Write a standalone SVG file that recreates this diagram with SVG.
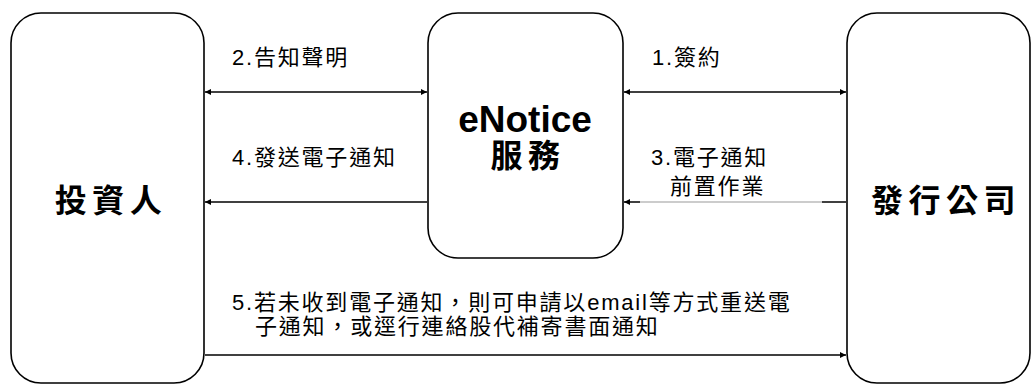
<svg xmlns="http://www.w3.org/2000/svg" width="1032" height="384" viewBox="0 0 1032 384" xml:lang="zh-Hant-TW">
<defs>
<style>
.node{fill:#fff;stroke:#000;stroke-width:1.6}
.big{font-family:"Liberation Sans","Noto Sans CJK TC",sans-serif;font-size:32px;font-weight:bold;letter-spacing:5.5px;text-anchor:middle}
.en{font-family:"Liberation Sans","Noto Sans CJK TC",sans-serif;font-size:37px;font-weight:bold;text-anchor:middle}
.lbl{font-family:"Liberation Sans","Noto Sans CJK TC",sans-serif;font-size:22px;letter-spacing:1.8px;fill:#000}
.ln{stroke:#000;stroke-width:1.5;fill:none}
</style>
<marker id="ah" viewBox="0 0 10 10" refX="10" refY="5" markerWidth="6" markerHeight="6" markerUnits="userSpaceOnUse" orient="auto-start-reverse">
<path d="M0,0 L10,5 L0,10 z" fill="#000"/>
</marker>
</defs>
<rect width="1032" height="384" fill="#fff"/>
<g id="investor">
<rect class="node" x="11" y="13" width="193" height="370" rx="30"/>
<text class="big" x="111" y="212">投資人</text>
</g>
<g id="enotice">
<rect class="node" x="428" y="13" width="195" height="245" rx="30"/>
<text class="en" x="525" y="132">eNotice</text>
<text class="big" x="528" y="167">服務</text>
</g>
<g id="issuer">
<rect class="node" x="847" y="13" width="183" height="370" rx="30"/>
<text class="big" x="946" y="212">發行公司</text>
</g>
<g id="connectors">
<line class="ln" x1="205" y1="92" x2="427" y2="92" marker-start="url(#ah)" marker-end="url(#ah)"/>
<line class="ln" x1="427" y1="202" x2="205" y2="202" marker-end="url(#ah)"/>
<line class="ln" x1="624" y1="92" x2="846" y2="92" marker-start="url(#ah)" marker-end="url(#ah)"/>
<line class="ln" x1="846" y1="202" x2="822" y2="202"/>
<line x1="822" y1="202" x2="640" y2="202" stroke="#9a9a9a" stroke-width="1.2"/>
<line class="ln" x1="640" y1="202" x2="624" y2="202" marker-end="url(#ah)"/>
<line class="ln" x1="205" y1="355" x2="846" y2="355" marker-end="url(#ah)"/>
<text class="lbl" x="232" y="65">2.告知聲明</text>
<text class="lbl" x="232" y="165">4.發送電子通知</text>
<text class="lbl" x="652" y="65">1.簽約</text>
<text class="lbl" x="651" y="165">3.電子通知</text>
<text class="lbl" x="670" y="194">前置作業</text>
<text class="lbl" x="232" y="310">5.若未收到電子通知，則可申請以email等方式重送電</text>
<text class="lbl" x="255" y="334">子通知，或逕行連絡股代補寄書面通知</text>
</g>
</svg>
